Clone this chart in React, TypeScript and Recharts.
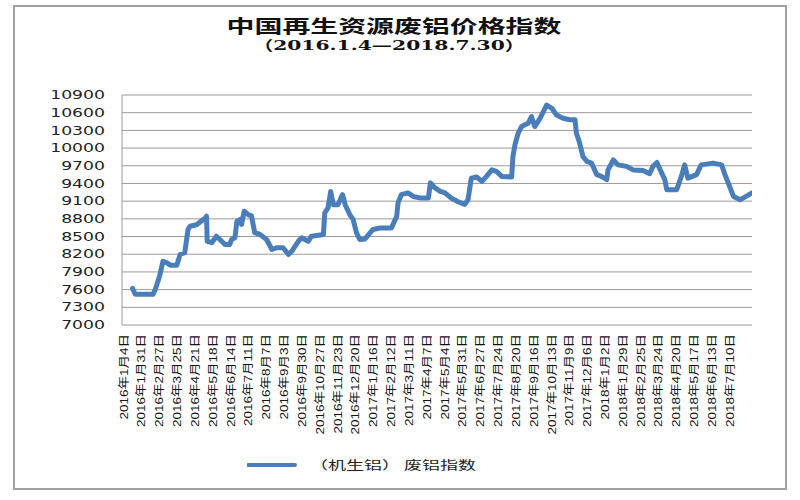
import React from 'react';
import { LineChart, Line, XAxis, YAxis, CartesianGrid } from 'recharts';

// day offset from 2016-01-04
const dayIndex = [0, 4, 7, 31, 34, 41, 46, 52, 57, 67, 72, 79, 84, 87, 97, 110, 112, 113, 120, 127, 135, 140, 147, 150, 155, 158, 163, 165, 169, 175, 180, 185, 193, 203, 211, 218, 228, 236, 241, 251, 256, 266, 271, 289, 291, 296, 300, 304, 311, 318, 322, 329, 334, 339, 344, 352, 364, 375, 392, 400, 402, 407, 417, 425, 435, 448, 451, 458, 466, 473, 483, 493, 503, 508, 513, 521, 529, 536, 544, 551, 559, 574, 576, 579, 584, 589, 599, 604, 609, 617, 627, 635, 642, 652, 662, 670, 672, 677, 682, 688, 695, 703, 710, 718, 720, 728, 735, 748, 758, 773, 783, 788, 794, 799, 806, 809, 824, 831, 836, 841, 854, 861, 879, 892, 897, 902, 910, 920, 925, 938];

const indexValues = [7620, 7520, 7520, 7520, 7590, 7830, 8080, 8055, 8015, 8015, 8195, 8225, 8620, 8675, 8700, 8815, 8845, 8420, 8395, 8505, 8420, 8365, 8365, 8450, 8480, 8760, 8790, 8705, 8930, 8870, 8855, 8565, 8535, 8450, 8280, 8310, 8310, 8195, 8250, 8420, 8480, 8420, 8505, 8535, 8900, 8985, 9265, 9040, 9040, 9210, 9040, 8870, 8790, 8565, 8450, 8460, 8620, 8645, 8645, 8845, 9070, 9210, 9240, 9180, 9155, 9155, 9410, 9325, 9265, 9240, 9150, 9090, 9045, 9125, 9490, 9510, 9435, 9520, 9630, 9605, 9520, 9510, 9855, 10055, 10255, 10365, 10420, 10535, 10365, 10505, 10730, 10675, 10560, 10505, 10480, 10480, 10255, 10085, 9855, 9775, 9745, 9550, 9520, 9465, 9630, 9800, 9715, 9690, 9630, 9620, 9565, 9690, 9755, 9630, 9465, 9295, 9295, 9520, 9715, 9490, 9550, 9715, 9745, 9715, 9550, 9410, 9180, 9125, 9155, 9240];

const tickDays = [0, 27, 54, 81, 108, 135, 162, 189, 216, 243, 270, 297, 324, 351, 378, 405, 432, 459, 486, 513, 540, 567, 594, 621, 648, 675, 702, 729, 756, 783, 810, 837, 864, 891, 918];

const tickLabels = ['2016年1月4日', '2016年1月31日', '2016年2月27日', '2016年3月25日', '2016年4月21日', '2016年5月18日', '2016年6月14日', '2016年7月11日', '2016年8月7日', '2016年9月3日', '2016年9月30日', '2016年10月27日', '2016年11月23日', '2016年12月20日', '2017年1月16日', '2017年2月12日', '2017年3月11日', '2017年4月7日', '2017年5月4日', '2017年5月31日', '2017年6月27日', '2017年7月24日', '2017年8月20日', '2017年9月16日', '2017年10月13日', '2017年11月9日', '2017年12月6日', '2018年1月2日', '2018年1月29日', '2018年2月25日', '2018年3月24日', '2018年4月20日', '2018年5月17日', '2018年6月13日', '2018年7月10日'];

const yTicks = [7000, 7300, 7600, 7900, 8200, 8500, 8800, 9100, 9400, 9700, 10000, 10300, 10600, 10900];

const seriesName = '（机生铝） 废铝指数';
const LINE_COLOR = '#4a7ebb';

const data = dayIndex.map((d, i) => ({ day: d, value: indexValues[i] }));

const XTick = (props: any) => {
  const { x, y, payload } = props;
  const idx = tickDays.indexOf(payload.value);
  const label = idx >= 0 ? tickLabels[idx] : '';
  return (
    <g transform={`translate(${x - 9},${y})`}>
      <text
        transform="rotate(-90) scale(1 0.85)"
        x={0}
        y={0}
        dy="0.35em"
        textAnchor="end"
        fontSize={13.5}
        fill="#111"
        fontFamily="'Liberation Sans', 'Noto Sans CJK SC', sans-serif"
      >
        {label}
      </text>
    </g>
  );
};

const YTick = (props: any) => {
  const { x, y, payload } = props;
  return (
    <g transform={`translate(${x},${y}) scale(1.5 1)`}>
      <text
        x={0}
        y={0}
        dy="0.36em"
        textAnchor="end"
        fontSize={11.5}
        fill="#222"
        fontFamily="'DejaVu Sans', sans-serif"
      >
        {payload.value}
      </text>
    </g>
  );
};

export default function App() {
  return (
    <div style={{ position: 'absolute', left: 0, top: 0, width: 800, height: 500, background: '#fff', overflow: 'hidden' }}>
      <div style={{ position: 'absolute', left: 13, top: 5, width: 770, height: 481, border: '2px solid #a0a0a0' }} />
      <div
        style={{
          position: 'absolute', left: 0, top: 16, width: 788, height: 19, textAlign: 'center',
          fontFamily: "'Noto Sans CJK SC', sans-serif", fontWeight: 700, fontSize: 18, lineHeight: '19px',
          color: '#111', transform: 'scaleX(1.55)', transformOrigin: '394px 50%', whiteSpace: 'nowrap',
        }}
      >
        中国再生资源废铝价格指数
      </div>
      <div
        style={{
          position: 'absolute', left: 0, top: 38, width: 778, height: 14, textAlign: 'center',
          fontFamily: "'DejaVu Serif', 'Noto Sans CJK SC', serif", fontWeight: 700, fontSize: 13.5, lineHeight: '14px',
          color: '#111', transform: 'scaleX(1.5)', transformOrigin: '389px 50%', whiteSpace: 'nowrap',
        }}
      >
        （2016.1.4—2018.7.30）
      </div>
      <div style={{ position: 'absolute', left: 0, top: 0 }}>
        <LineChart width={800} height={500} data={data} margin={{ top: 95, right: 48, bottom: 55, left: 0 }}>
          <CartesianGrid vertical={false} stroke="#9a9a9a" strokeWidth={1} />
          <XAxis
            type="number"
            dataKey="day"
            domain={[-16, 938]}
            ticks={tickDays}
            interval={0}
            height={120}
            axisLine={false}
            tickLine={false}
            tickSize={0}
            tickMargin={9}
            tick={<XTick />}
            allowDataOverflow
          />
          <YAxis
            type="number"
            domain={[7000, 10900]}
            ticks={yTicks}
            interval={0}
            width={122}
            axisLine={{ stroke: '#9a9a9a' }}
            tickLine={false}
            tickSize={0}
            tickMargin={17}
            tick={<YTick />}
            allowDataOverflow
          />
          <Line
            type="linear"
            dataKey="value"
            name={seriesName}
            stroke={LINE_COLOR}
            strokeWidth={5}
            strokeLinejoin="round"
            strokeLinecap="round"
            dot={false}
            isAnimationActive={false}
          />
        </LineChart>
      </div>
      <div style={{ position: 'absolute', left: 247, top: 457, display: 'flex', alignItems: 'center', height: 16 }}>
        <svg width={50} height={16}>
          <line x1={1} y1={8} x2={48} y2={8} stroke={LINE_COLOR} strokeWidth={4} strokeLinecap="round" />
        </svg>
        <span
          style={{
            marginLeft: 13, fontFamily: "'Noto Sans CJK SC', sans-serif", fontSize: 12, lineHeight: '16px',
            color: '#222', display: 'inline-block', transform: 'scaleX(1.5)', transformOrigin: 'left center', whiteSpace: 'nowrap',
          }}
        >
          {seriesName}
        </span>
      </div>
    </div>
  );
}
